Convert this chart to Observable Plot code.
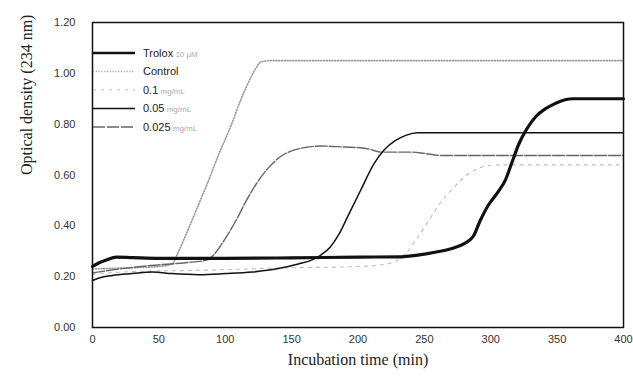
<!DOCTYPE html>
<html>
<head>
<meta charset="utf-8">
<script src="https://cdn.jsdelivr.net/npm/d3@7"></script>
<script src="https://cdn.jsdelivr.net/npm/@observablehq/plot@0.6"></script>
<style>
  html, body { margin: 0; padding: 0; background: #fff; }
  #chart { width: 633px; height: 387px; }
</style>
</head>
<body>
<div id="chart"></div>
<script>
// ---- data ----
const xTicks = [0, 50, 100, 150, 200, 250, 300, 350, 400];
const yTicks = [0, 0.2, 0.4, 0.6, 0.8, 1.0, 1.2];

const legendNames = ["Trolox", "Control", "0.1", "0.05", "0.025"];
const legendUnits = [" 10 μM", "", " mg/mL", " mg/mL", " mg/mL"];

const troloxT = [0, 5, 10, 18, 30, 50, 100, 150, 200, 230, 245, 258, 270, 280, 287, 292, 298, 305, 311, 316, 321, 327, 334, 341, 348, 356, 362, 380, 400];
const troloxY = [0.24, 0.255, 0.265, 0.277, 0.275, 0.272, 0.272, 0.274, 0.277, 0.278, 0.285, 0.296, 0.31, 0.33, 0.36, 0.42, 0.48, 0.53, 0.58, 0.65, 0.72, 0.78, 0.83, 0.86, 0.88, 0.896, 0.90, 0.90, 0.90];

const controlT = [0, 10, 30, 50, 60, 64, 70, 78, 86, 95, 104, 112, 118, 122, 127, 135, 200, 300, 400];
const controlY = [0.23, 0.232, 0.235, 0.24, 0.25, 0.29, 0.36, 0.46, 0.56, 0.68, 0.79, 0.9, 0.97, 1.01, 1.045, 1.05, 1.05, 1.05, 1.05];

const c01T = [0, 30, 80, 150, 200, 215, 228, 236, 243, 252, 262, 272, 282, 290, 296, 310, 350, 400];
const c01Y = [0.21, 0.22, 0.225, 0.235, 0.24, 0.245, 0.26, 0.29, 0.34, 0.41, 0.49, 0.55, 0.60, 0.625, 0.635, 0.64, 0.64, 0.64];

const c005T = [0, 5, 15, 30, 45, 60, 80, 100, 120, 140, 155, 165, 172, 179, 186, 192, 202, 212, 220, 228, 236, 245, 260, 300, 400];
const c005Y = [0.185, 0.195, 0.205, 0.212, 0.218, 0.212, 0.208, 0.212, 0.218, 0.232, 0.25, 0.265, 0.285, 0.316, 0.37, 0.434, 0.54, 0.644, 0.70, 0.735, 0.756, 0.766, 0.766, 0.766, 0.766];

const c0025T = [0, 20, 44, 70, 86, 92, 100, 108, 116, 124, 132, 141, 150, 160, 172, 190, 202, 210, 217, 240, 250, 262, 300, 400];
const c0025Y = [0.215, 0.23, 0.244, 0.255, 0.265, 0.29, 0.35, 0.42, 0.5, 0.57, 0.625, 0.67, 0.695, 0.708, 0.714, 0.71, 0.707, 0.70, 0.69, 0.69, 0.685, 0.677, 0.677, 0.677];

// ---- build tables ----
const zip = (t, y) => t.map((v, i) => ({t: v, y: y[i]}));
const trolox = zip(troloxT, troloxY);
const control = zip(controlT, controlY);
const c01 = zip(c01T, c01Y);
const c005 = zip(c005T, c005Y);
const c0025 = zip(c0025T, c0025Y);

const styles = [
  {stroke: "#111", strokeWidth: 3.2, strokeDasharray: null},
  {stroke: "#999", strokeWidth: 1.6, strokeDasharray: "1,1.8"},
  {stroke: "#bbb", strokeWidth: 1.1, strokeDasharray: "3,5"},
  {stroke: "#111", strokeWidth: 1.5, strokeDasharray: null},
  {stroke: "#666", strokeWidth: 1.4, strokeDasharray: "12,2"}
];

const W = 633, H = 387;
const mL = 92, mR = 10, mT = 22, mB = 60;

const lineOf = (data, s) => Plot.line(data, {
  x: "t", y: "y", curve: "monotone-x",
  stroke: s.stroke, strokeWidth: s.strokeWidth,
  strokeDasharray: s.strokeDasharray || undefined
});

const chart = Plot.plot({
  width: W, height: H,
  marginLeft: mL, marginRight: mR, marginTop: mT, marginBottom: mB,
  style: {fontFamily: "'Liberation Sans', Arial, sans-serif", background: "#fff"},
  x: {domain: [0, 400]},
  y: {domain: [0, 1.2]},
  marks: [
    Plot.axisX({ticks: xTicks, tickSize: 0, tickPadding: 8, fontSize: 11, fill: "#333", label: null}),
    Plot.axisY({ticks: yTicks, tickSize: 0, tickPadding: 17, fontSize: 11, fill: "#333", label: null, tickFormat: d3.format(".2f")}),
    lineOf(control, styles[1]),
    lineOf(c01, styles[2]),
    lineOf(c0025, styles[4]),
    lineOf(c005, styles[3]),
    lineOf(trolox, styles[0]),
    Plot.frame({stroke: "#111", strokeWidth: 1.5}),
    Plot.text(["Incubation time (min)"], {frameAnchor: "bottom", dy: 37, fontSize: 16, fontFamily: "'Liberation Serif', 'Times New Roman', serif", fill: "#222"}),
    Plot.text(["Optical density (234 nm)"], {frameAnchor: "left", dx: -66, rotate: -90, fontSize: 16, fontFamily: "'Liberation Serif', 'Times New Roman', serif", fill: "#222"})
  ]
});

document.getElementById("chart").appendChild(chart);

// ---- legend (inside plot, top-left) ----
const svg = d3.select(chart);
const lg = svg.append("g").attr("transform", `translate(${mL + 1},${mT + 31})`);
legendNames.forEach((name, i) => {
  const yy = i * 18.5;
  const s = styles[i];
  lg.append("line").attr("x1", 0).attr("x2", 42).attr("y1", yy).attr("y2", yy)
    .attr("stroke", s.stroke).attr("stroke-width", i === 0 ? 2.6 : s.strokeWidth)
    .attr("stroke-dasharray", s.strokeDasharray);
  const t = lg.append("text").attr("x", 50).attr("y", yy).attr("dy", "0.35em")
    .attr("text-anchor", "start")
    .attr("font-size", 11).attr("font-family", "'Liberation Sans', Arial, sans-serif").attr("fill", "#222");
  t.append("tspan").text(name);
  if (legendUnits[i]) t.append("tspan").attr("fill", "#aaa").attr("font-size", 8).text(legendUnits[i]);
});
</script>
</body>
</html>
